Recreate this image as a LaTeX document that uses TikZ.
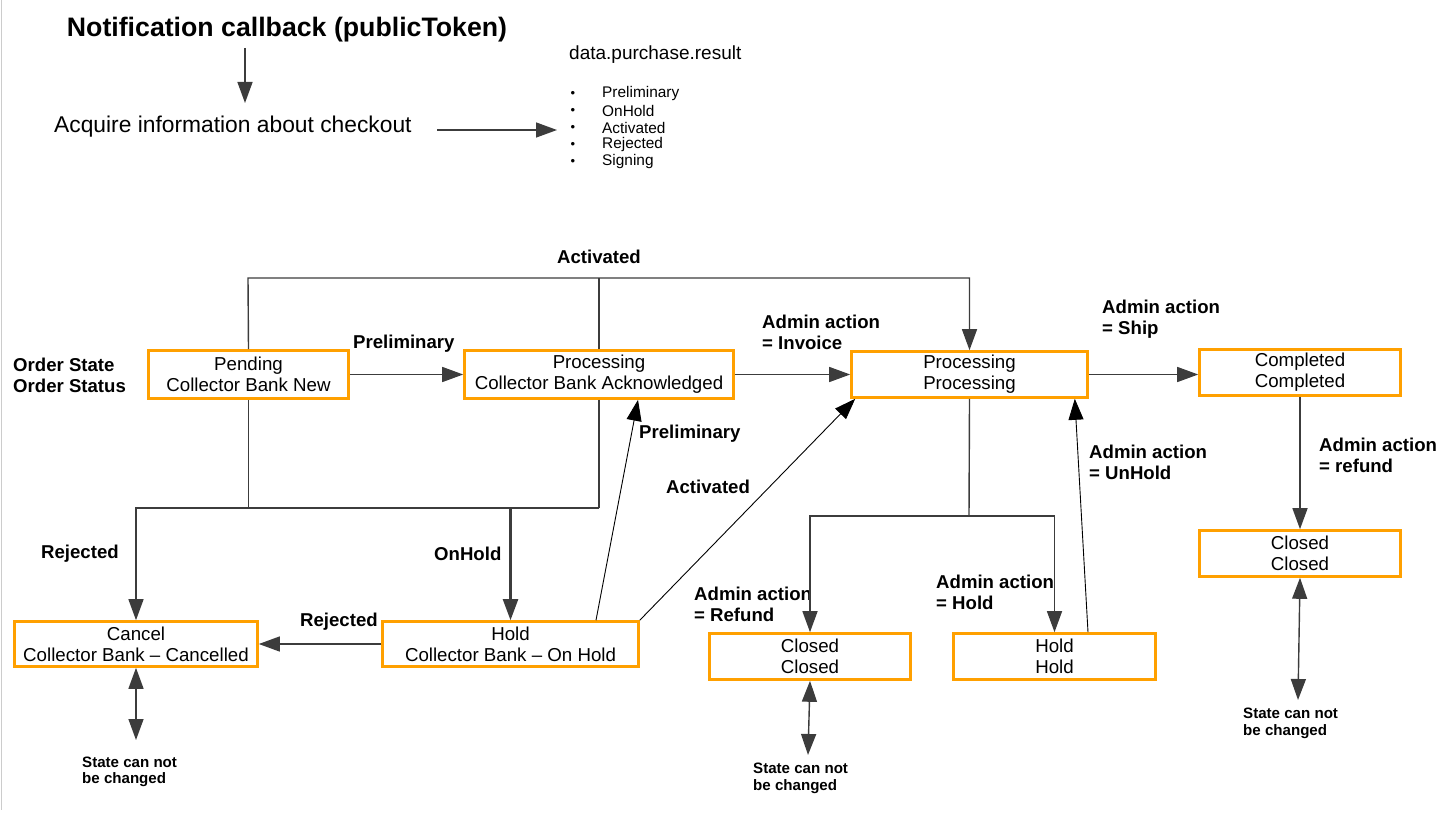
\documentclass[tikz,border=0pt]{standalone}
\usepackage{fontspec}
\setmainfont{Liberation Sans}
\usetikzlibrary{arrows.meta}
\definecolor{boxorange}{RGB}{255,160,0}
\definecolor{wiregray}{RGB}{60,60,60}
\tikzset{
  state/.style={draw=boxorange, line width=2.6pt, fill=white, align=center, inner sep=0pt, font=\fontsize{18.7}{21}\selectfont},
  lbl/.style={anchor=west, align=left, inner sep=0pt, font=\bfseries\fontsize{18.6}{21}\selectfont},
  note/.style={anchor=west, align=left, inner sep=0pt, font=\bfseries\fontsize{15.1}{16.5}\selectfont},
  wire/.style={draw=wiregray, line width=1.4pt},
  arr/.style={wire, -{Triangle[length=21pt,width=15pt]}},
  thinarr/.style={arr, draw=black, line width=0.9pt},
  dblarr/.style={wire, {Triangle[length=21pt,width=15pt]}-{Triangle[length=21pt,width=15pt]}},
}
\begin{document}
\begin{tikzpicture}[x=1pt,y=-1pt]
\useasboundingbox (0,0) rectangle (1447,813);
\draw[black!20, line width=1pt] (1,0) -- (1,810);

\node[font=\bfseries\fontsize{26.7}{30}\selectfont] (title) at (287,29.5) {Notification callback (publicToken)};
\node[anchor=west, inner sep=0pt, font=\fontsize{22.8}{26}\selectfont] (acq) at (54,126.5) {Acquire information about checkout};
\node[anchor=west, inner sep=0pt, font=\fontsize{19}{22}\selectfont] (result) at (569,55) {data.purchase.result};
\foreach \res [count=\i] in {Preliminary,OnHold,Activated,Rejected,Signing}{
  \node[anchor=west, inner sep=0pt, font=\fontsize{15.4}{17}\selectfont] (res\i) at (602,77+17*\i) {\res};
  \node[inner sep=0pt, font=\fontsize{13}{13}\selectfont] (dot\i) at (573,77+17*\i) {\textbullet};
}
\coordinate (t1) at (245,48);
\coordinate (t2) at (245,103);
\draw[arr] (t1) -- (t2);
\coordinate (a1) at (437,130);
\coordinate (a2) at (557,130);
\draw[arr] (a1) -- (a2);

\node[state, minimum width=200pt, minimum height=48pt] (pend) at (248.5,374.5) {Pending\\Collector Bank New};
\node[state, minimum width=269pt, minimum height=48pt] (proc1) at (599,374.5) {Processing\\Collector Bank Acknowledged};
\node[state, minimum width=236pt, minimum height=46pt] (proc2) at (969.5,374.5) {Processing\\Processing};
\node[state, minimum width=201pt, minimum height=46pt] (comp) at (1300,372.5) {Completed\\Completed};
\node[state, minimum width=201pt, minimum height=46pt] (closed2) at (1300,553.5) {Closed\\Closed};
\node[state, minimum width=243pt, minimum height=45pt] (cancel) at (136,644) {Cancel\\Collector Bank -- Cancelled};
\node[state, minimum width=256pt, minimum height=45pt] (hold1) at (510.5,644) {Hold\\Collector Bank -- On Hold};
\node[state, minimum width=201pt, minimum height=46pt] (closed1) at (810,656.5) {Closed\\Closed};
\node[state, minimum width=202pt, minimum height=46pt] (hold2) at (1054.5,656.5) {Hold\\Hold};

\node[lbl, anchor=center] (act1) at (599,257) {Activated};
\node[lbl] (prelim1) at (353,344) {Preliminary};
\node[lbl] (invoice) at (762,332.5) {Admin action\\= Invoice};
\node[lbl] (ship) at (1102,319.5) {Admin action\\= Ship};
\node[lbl] (order) at (13,375.5) {Order State\\Order Status};
\node[lbl] (prelim2) at (639,434) {Preliminary};
\node[lbl] (act2) at (666,487) {Activated};
\node[lbl] (unhold) at (1089,462.5) {Admin action\\= UnHold};
\node[lbl] (refund2) at (1319,455.5) {Admin action\\= refund};
\node[lbl] (rej1) at (41,554) {Rejected};
\node[lbl] (onhold) at (434,554) {OnHold};
\node[lbl] (rej2) at (300,622) {Rejected};
\node[lbl] (refund1) at (694,604.5) {Admin action\\= Refund};
\node[lbl] (holdlbl) at (936,592.5) {Admin action\\= Hold};
\node[note] (fix1) at (82,772) {State can not\\be changed};
\node[note] (fix2) at (753,778.5) {State can not\\be changed};
\node[note] (fix3) at (1243,723.5) {State can not\\be changed};

\coordinate (acttop) at (248,278);
\coordinate (split1) at (599,508);
\coordinate (split2) at (969,516);
\draw[arr] (pend.north) -- (acttop) -| (proc2.north);
\draw[wire] (proc1.north) -- (proc1.north |- acttop);
\draw[arr] (pend) -- (proc1);
\draw[arr] (proc1) -- (proc2);
\draw[arr] (proc2.east) -- (proc2.east -| comp.west);
\draw[arr] (comp) -- (closed2);
\draw[wire] (pend.south) |- (split1);
\draw[wire] (proc1.south) -- (split1);
\draw[arr] (split1) -| (cancel.north);
\draw[arr, line width=2.3pt] (hold1.north |- split1) -- (hold1.north);
\draw[arr] (hold1) -- (cancel);
\draw[thinarr] ([xshift=85.5pt]hold1.north) -- ([xshift=39pt]proc1.south);
\draw[thinarr] (hold1.north east) -- ([xshift=5pt]proc2.south west);
\draw[wire] (proc2.south) -- (split2);
\draw[arr] (split2) -| (closed1.north);
\draw[arr] (split2) -| (hold2.north);
\draw[thinarr] ([xshift=33.5pt]hold2.north) -- ([xshift=-14pt]proc2.south east);

\coordinate (tip1) at (136,740);
\coordinate (tip2) at (808,755);
\coordinate (tip3) at (1298,700);
\draw[dblarr] (cancel.south) -- (tip1);
\draw[dblarr] (closed1.south) -- (tip2);
\draw[dblarr] (closed2.south) -- (tip3);
\end{tikzpicture}
\end{document}
